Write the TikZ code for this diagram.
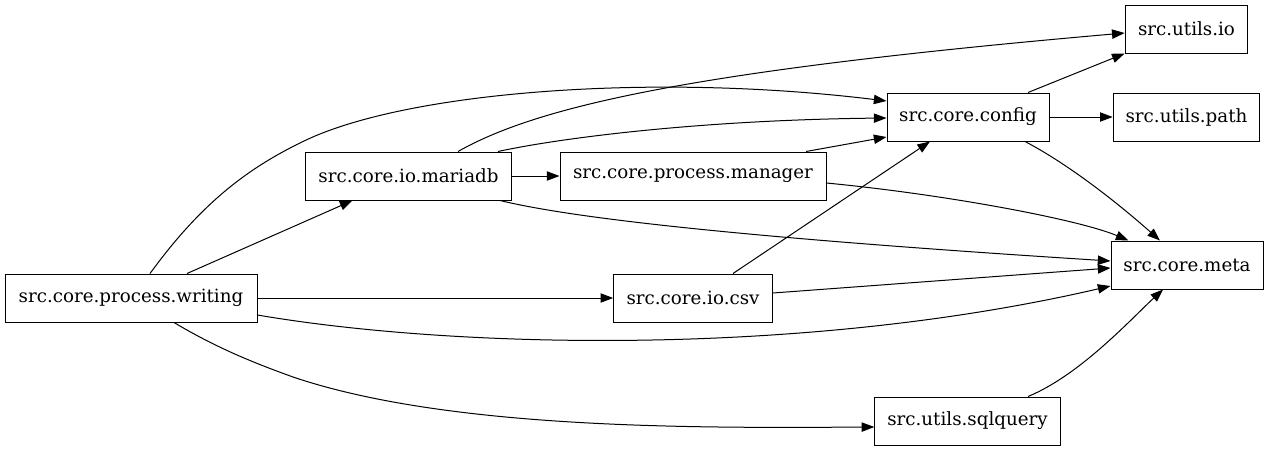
\documentclass[tikz,border=0pt]{standalone}
\usepackage{fontspec}
\setmainfont{DejaVu Serif}
\usetikzlibrary{arrows.meta,calc}
\begin{document}
\begin{tikzpicture}[x=0.75pt,y=-0.75pt,
  mod/.style={draw=black,line width=0.75pt,rectangle,minimum height=36pt,inner sep=0pt,
    font=\fontsize{13.7}{16}\selectfont},
  dep/.style={line width=0.75pt,-{Triangle[length=9.5pt,width=7pt]}}]
\useasboundingbox (0,0) rectangle (1268,451);
\node[mod,minimum width=189pt] (writing) at (131,298) {src.core.process.writing};
\node[mod,minimum width=155pt] (mariadb) at (408.5,176) {src.core.io.mariadb};
\node[mod,minimum width=199.5pt] (manager) at (693,176) {src.core.process.manager};
\node[mod,minimum width=121.5pt] (config) at (968,117) {src.core.config};
\node[mod,minimum width=92pt] (uio) at (1186.5,29) {src.utils.io};
\node[mod,minimum width=110pt] (upath) at (1186.5,117) {src.utils.path};
\node[mod,minimum width=114pt] (meta) at (1187,265) {src.core.meta};
\node[mod,minimum width=119pt] (csv) at (693,298) {src.core.io.csv};
\node[mod,minimum width=139pt] (sql) at (967.5,421) {src.utils.sqlquery};

% writing -> config
\draw[dep] ($(writing.north)+(19,0)$) .. controls (200,205) and (245,170) .. (300,143)
  .. controls (400,92) and (650,72) .. ($(config.west)+(0,-16)$);
% writing -> mariadb
\draw[dep] ($(writing.north)+(56,0)$) -- ($(mariadb.south)+(-56,0)$);
% writing -> csv
\draw[dep] (writing.east) -- (csv.west);
% writing -> meta
\draw[dep] ($(writing.east)+(0,17)$) .. controls (450,348) and (800,358) .. ($(meta.west)+(0,21)$);
% writing -> sqlquery
\draw[dep] ($(writing.south)+(43,0)$) .. controls (220,350) and (260,365) .. (293,377)
  .. controls (450,430) and (700,428) .. ($(sql.west)+(0,6)$);
% mariadb -> utils.io
\draw[dep] ($(mariadb.north)+(49.5,0)$) .. controls (540,105) and (700,70) .. ($(uio.west)+(0,4)$);
% mariadb -> config
\draw[dep] ($(mariadb.north)+(89.5,0)$) .. controls (560,138) and (700,120) .. ($(config.west)+(0,1)$);
% mariadb -> manager
\draw[dep] (mariadb.east) -- (manager.west);
% mariadb -> meta
\draw[dep] ($(mariadb.south)+(91.5,0)$) .. controls (560,215) and (700,235) .. ($(meta.west)+(0,-4)$);
% manager -> config
\draw[dep] ($(manager.north)+(113,0)$) -- ($(config.west)+(0,20)$);
% manager -> meta
\draw[dep] ($(manager.east)+(0,7)$) .. controls (950,195) and (1080,220) .. ($(meta.north west)+(18,0)$);
% csv -> config
\draw[dep] ($(csv.north)+(40,0)$) -- ($(config.south)+(-38,0)$);
% csv -> meta
\draw[dep] ($(csv.east)+(0,-5)$) -- ($(meta.west)+(0,3)$);
% config -> utils.io
\draw[dep] ($(config.north)+(60,0)$) -- (uio.south west);
% config -> utils.path
\draw[dep] (config.east) -- (upath.west);
% config -> meta
\draw[dep] ($(config.south)+(57,0)$) .. controls (1070,165) and (1120,205) .. ($(meta.north)+(-27,0)$);
% sqlquery -> meta
\draw[dep] ($(sql.north)+(60.5,0)$) .. controls (1080,375) and (1130,320) .. ($(meta.south)+(-24,0)$);
\end{tikzpicture}
\end{document}
